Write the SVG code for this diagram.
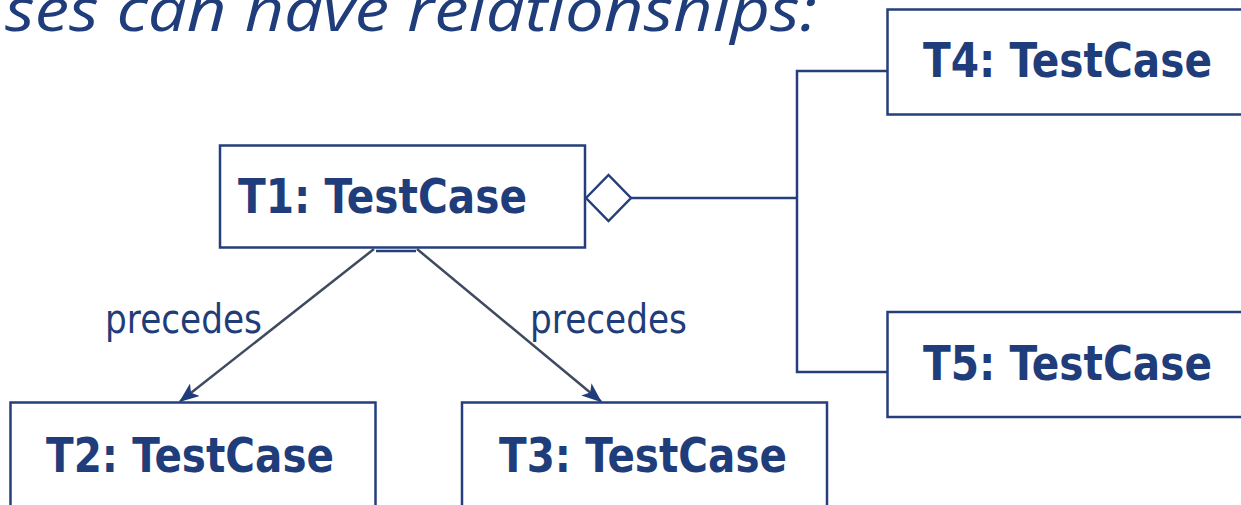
<svg xmlns="http://www.w3.org/2000/svg" width="1241" height="505" viewBox="0 0 1241 505">
<defs>
<style>
.box{fill:#ffffff;stroke:#243f7c;stroke-width:2.5}
.lbl{font-family:"DejaVu Sans",Verdana,sans-serif;font-weight:bold;font-size:48px;fill:#1f3d7a}
.conn{fill:none;stroke:#3f4a60;stroke-width:2.5}
.agg{fill:none;stroke:#243f7c;stroke-width:2.5}
.edge{font-family:"DejaVu Sans",Verdana,sans-serif;font-size:40px;fill:#1f3d7a}
.title{font-family:"Open Sans","Noto Sans",sans-serif;font-style:italic;font-size:61px;fill:#1f3d7a}
</style>
<marker id="arr" viewBox="0 0 20 16" refX="19" refY="8" markerWidth="20" markerHeight="16" markerUnits="userSpaceOnUse" orient="auto">
<path d="M0,0 L20,8 L0,16 L5,8 Z" fill="#1f3d7a"/>
</marker>
</defs>
<text class="title" x="5" y="31" textLength="812" lengthAdjust="spacingAndGlyphs">ses can have relationships:</text>
<g id="T1">
<rect class="box" x="220" y="145.5" width="365" height="102"/>
<text class="lbl" x="238" y="213" textLength="289" lengthAdjust="spacingAndGlyphs">T1: TestCase</text>
</g>
<g id="T2">
<rect class="box" x="10.5" y="402.5" width="365" height="110"/>
<text class="lbl" x="46" y="472" textLength="288" lengthAdjust="spacingAndGlyphs">T2: TestCase</text>
</g>
<g id="T3">
<rect class="box" x="462" y="402.5" width="365" height="110"/>
<text class="lbl" x="499" y="472" textLength="288" lengthAdjust="spacingAndGlyphs">T3: TestCase</text>
</g>
<g id="T4">
<rect class="box" x="887.5" y="9.5" width="370" height="105"/>
<text class="lbl" x="923" y="77" textLength="289" lengthAdjust="spacingAndGlyphs">T4: TestCase</text>
</g>
<g id="T5">
<rect class="box" x="887.5" y="312" width="370" height="105"/>
<text class="lbl" x="923" y="380" textLength="289" lengthAdjust="spacingAndGlyphs">T5: TestCase</text>
</g>
<g id="connectors">
<line class="agg" x1="376" y1="251" x2="416" y2="251"/>
<line class="conn" x1="374" y1="249" x2="180" y2="401.5" marker-end="url(#arr)"/>
<line class="conn" x1="417" y1="249" x2="601" y2="401.5" marker-end="url(#arr)"/>
<path class="agg" d="M586,198 L608.5,175 L631,198 L608.5,221 Z" style="fill:#ffffff"/>
<path class="agg" d="M631,198 H797 M887,71 H797 V372 H887"/>
<text class="edge" x="105" y="333" textLength="157" lengthAdjust="spacingAndGlyphs">precedes</text>
<text class="edge" x="530" y="333" textLength="157" lengthAdjust="spacingAndGlyphs">precedes</text>
</g>
</svg>
